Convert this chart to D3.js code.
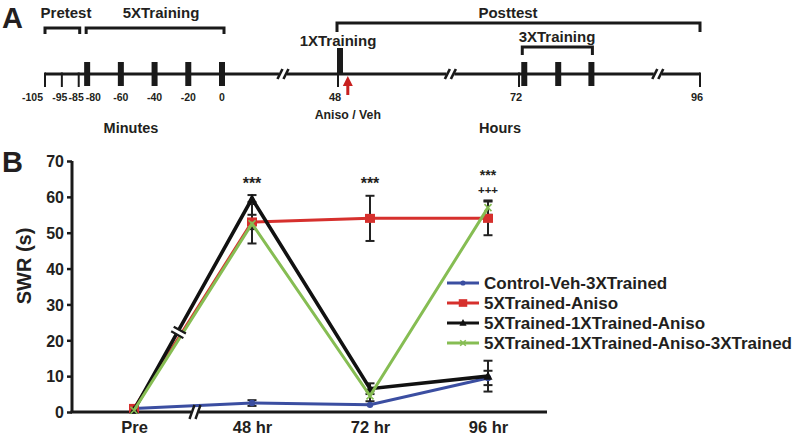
<!DOCTYPE html>
<html><head><meta charset="utf-8">
<script src="https://cdn.jsdelivr.net/npm/d3@7"></script>
<style>
html,body{margin:0;padding:0;background:#fff;}
svg text{font-family:"Liberation Sans",Arial,Helvetica,sans-serif;font-weight:bold;fill:#231f20;}
</style></head>
<body>
<svg id="chart" width="794" height="435"></svg>
<script>
// ---------- Panel A data ----------
const pretestMinutes = [-105, -95, -85];
const fiveXTrainingMinutes = [-80, -60, -40, -20, 0];
const minuteTickLabels = [-105, -95, -85, -80, -60, -40, -20, 0];
const hourTickLabels = [48, 72, 96];
const oneXTrainingHour = 48;
const threeXTrainingHours = [72.7, 77.2, 81.6];
const anisoHour = 49.3;
const timelineBreakHours = [40.7, 62.9, 90.4];

// ---------- Panel B data ----------
const categories = ["Pre", "48 hr", "72 hr", "96 hr"];
const seriesNames = ["Control-Veh-3XTrained", "5XTrained-Aniso", "5XTrained-1XTrained-Aniso", "5XTrained-1XTrained-Aniso-3XTrained"];
const controlVeh = [1.0, 2.5, 2.0, 9.5];
const controlVehErr = [0.3, 0.8, 0.5, 2.0];
const trainedAniso = [1.0, 53.0, 54.0, 54.0];
const trainedAnisoErr = [0.3, 2.0, 6.3, 4.7];
const trained1XAniso = [0.5, 59.5, 6.5, 10.0];
const trained1XAnisoErr = [0.3, 1.0, 1.5, 4.3];
const trained1XAniso3X = [0.5, 52.5, 4.5, 57.0];
const trained1XAniso3XErr = [0.3, 5.5, 1.5, 2.0];
const yTicks = [0, 10, 20, 30, 40, 50, 60, 70];
const sigStars = ["", "***", "***", "***"];
const sigPlus = ["", "", "", "+++"];

const colors = ["#3b4ea1", "#d6302d", "#111111", "#86bd53"];
const markers = ["circle", "square", "triangle", "cross"];

const svg = d3.select("#chart");
const ink = "#1a1a1a";

// ================= PANEL A =================
const gA = svg.append("g");
const minuteScale = d3.scaleLinear().domain([-105, 0]).range([45, 222]);
const hourScale = d3.scaleLinear().domain([48, 96]).range([338, 700]);
const lineY = 74;

gA.append("text").attr("x", 2).attr("y", 28).attr("font-size", 29).text("A");

gA.append("line").attr("x1", minuteScale(-105)).attr("x2", hourScale(96))
  .attr("y1", lineY).attr("y2", lineY).attr("stroke", ink).attr("stroke-width", 3);

timelineBreakHours.forEach(h => {
  const x = hourScale(h);
  gA.append("rect").attr("x", x - 4).attr("y", lineY - 3).attr("width", 8).attr("height", 6).attr("fill", "#fff");
  [-3, 3].forEach(dx => {
    gA.append("line").attr("x1", x + dx - 2.5).attr("y1", lineY + 5).attr("x2", x + dx + 2.5).attr("y2", lineY - 5)
      .attr("stroke", ink).attr("stroke-width", 2.6);
  });
});

pretestMinutes.forEach(m => {
  gA.append("line").attr("x1", minuteScale(m)).attr("x2", minuteScale(m)).attr("y1", lineY - 1.5).attr("y2", 87)
    .attr("stroke", ink).attr("stroke-width", 2);
});
fiveXTrainingMinutes.forEach(m => {
  gA.append("rect").attr("x", minuteScale(m) - 3).attr("y", 62).attr("width", 6).attr("height", 24).attr("fill", ink);
});
hourTickLabels.forEach(h => {
  gA.append("line").attr("x1", hourScale(h)).attr("x2", hourScale(h)).attr("y1", lineY - 1.5).attr("y2", 87)
    .attr("stroke", ink).attr("stroke-width", 2);
});
gA.append("rect").attr("x", hourScale(oneXTrainingHour) - 1).attr("y", 48).attr("width", 6).attr("height", lineY - 48).attr("fill", ink);
threeXTrainingHours.forEach(h => {
  gA.append("rect").attr("x", hourScale(h) - 3).attr("y", 62).attr("width", 6).attr("height", 24).attr("fill", ink);
});

minuteTickLabels.forEach((m, i) => {
  let x = minuteScale(m), anchor = "middle";
  if (i === 0) { x = x - 2; anchor = "end"; }
  if (m === -95) x -= 2;
  if (m === -85) x -= 2.5;
  if (m === -80) { x = x - 1.5; anchor = "start"; }
  gA.append("text").attr("x", x).attr("y", 101).attr("font-size", 10.5).attr("text-anchor", anchor).text(m);
});
hourTickLabels.forEach(h => {
  gA.append("text").attr("x", hourScale(h) - 3).attr("y", 101).attr("font-size", 11).attr("text-anchor", "middle").text(h);
});

function bracket(x1, x2, yTop, yBot) {
  gA.append("path").attr("d", `M${x1},${yBot}V${yTop}H${x2}V${yBot}`)
    .attr("fill", "none").attr("stroke", ink).attr("stroke-width", 3);
}
bracket(minuteScale(-105), minuteScale(-85) + 1, 28, 34);
bracket(minuteScale(-80) - 1, minuteScale(0) + 2, 28, 34);
bracket(hourScale(48) - 1, hourScale(96), 23, 32);
bracket(hourScale(threeXTrainingHours[0]) - 2, hourScale(threeXTrainingHours[2]) + 1, 47, 55);

gA.append("text").attr("x", 66).attr("y", 18).attr("font-size", 15).attr("text-anchor", "middle").text("Pretest");
gA.append("text").attr("x", 161).attr("y", 18).attr("font-size", 15).attr("text-anchor", "middle").text("5XTraining");
gA.append("text").attr("x", 508).attr("y", 18).attr("font-size", 15).attr("text-anchor", "middle").text("Posttest");
gA.append("text").attr("x", 338).attr("y", 46).attr("font-size", 15).attr("text-anchor", "middle").text("1XTraining");
gA.append("text").attr("x", 557).attr("y", 42).attr("font-size", 15).attr("text-anchor", "middle").text("3XTraining");

const ax = hourScale(anisoHour);
gA.append("line").attr("x1", ax).attr("x2", ax).attr("y1", 95).attr("y2", 83).attr("stroke", "#c8201f").attr("stroke-width", 3);
gA.append("path").attr("d", `M${ax},76L${ax - 5},86L${ax + 5},86Z`).attr("fill", "#c8201f");
gA.append("text").attr("x", ax).attr("y", 119).attr("font-size", 12.3).attr("text-anchor", "middle").text("Aniso / Veh");

gA.append("text").attr("x", 131).attr("y", 133).attr("font-size", 14.5).attr("text-anchor", "middle").text("Minutes");
gA.append("text").attr("x", 500).attr("y", 133).attr("font-size", 14.5).attr("text-anchor", "middle").text("Hours");

// ================= PANEL B =================
const gB = svg.append("g");
const y = d3.scaleLinear().domain([0, 70]).range([412, 161]);
const x = d3.scalePoint().domain(categories).range([134, 488]);
const axisLeft = 72, axisRight = 547;

gB.append("text").attr("x", 2).attr("y", 172).attr("font-size", 29).text("B");

const yAxis = gB.append("g").attr("transform", `translate(${axisLeft},0)`)
  .call(d3.axisLeft(y).tickValues(yTicks).tickSize(5).tickPadding(3));
yAxis.select(".domain").attr("stroke", ink).attr("stroke-width", 3).attr("d", `M0,${y(70)}V${y(0)}`);
yAxis.selectAll(".tick line").attr("stroke", ink).attr("stroke-width", 2.5);
yAxis.selectAll(".tick text").attr("font-size", 16).attr("fill", "#231f20")
  .style("font-family", '"Liberation Sans",Arial,sans-serif').style("font-weight", "bold").attr("dy", "0.36em");

gB.append("text").attr("transform", "translate(31,266) rotate(-90)").attr("font-size", 20)
  .attr("text-anchor", "middle").text("SWR (s)");

const xAxis = gB.append("g").attr("transform", `translate(0,${y(0)})`)
  .call(d3.axisBottom(x).tickSize(0).tickPadding(9));
xAxis.select(".domain").attr("stroke", ink).attr("stroke-width", 3).attr("d", `M${axisLeft - 1.5},0H${axisRight}`);
xAxis.selectAll(".tick text").attr("font-size", 16.5).attr("fill", "#231f20")
  .style("font-family", '"Liberation Sans",Arial,sans-serif').style("font-weight", "bold").attr("dy", "0.72em");

const seriesVals = [controlVeh, trainedAniso, trained1XAniso, trained1XAniso3X];
const seriesErrs = [controlVehErr, trainedAnisoErr, trained1XAnisoErr, trained1XAniso3XErr];

seriesVals.forEach((vals, s) => {
  vals.forEach((v, i) => {
    const e = seriesErrs[s][i];
    if (e < 0.6) return;
    const cx = x(categories[i]);
    const g = gB.append("g").attr("stroke", "#222").attr("stroke-width", 2);
    g.append("line").attr("x1", cx).attr("x2", cx).attr("y1", y(v - e)).attr("y2", y(v + e));
    g.append("line").attr("x1", cx - 4.5).attr("x2", cx + 4.5).attr("y1", y(v - e)).attr("y2", y(v - e));
    g.append("line").attr("x1", cx - 4.5).attr("x2", cx + 4.5).attr("y1", y(v + e)).attr("y2", y(v + e));
  });
});

const line = d3.line().x((d, i) => x(categories[i])).y(d => y(d));

function drawMarker(g, type, cx, cy, color, scale) {
  const k = scale || 1;
  if (type === "circle") g.append("circle").attr("cx", cx).attr("cy", cy).attr("r", 3.2 * k).attr("fill", color);
  else if (type === "square") g.append("rect").attr("x", cx - 5 * k).attr("y", cy - 4.5 * k).attr("width", 10 * k).attr("height", 9 * k).attr("fill", color);
  else if (type === "triangle") g.append("path").attr("d", `M${cx},${cy - 5 * k}L${cx - 4.5 * k},${cy + 3.5 * k}L${cx + 4.5 * k},${cy + 3.5 * k}Z`).attr("fill", color);
  else if (type === "cross") {
    const r = 3.5 * k;
    g.append("path").attr("d", `M${cx - r},${cy - r}L${cx + r},${cy + r}M${cx - r},${cy + r}L${cx + r},${cy - r}`)
      .attr("stroke", color).attr("stroke-width", 1.6).attr("fill", "none");
  }
}

seriesVals.forEach((vals, s) => {
  const g = gB.append("g");
  g.append("path").datum(vals).attr("d", line).attr("fill", "none").attr("stroke", colors[s])
    .attr("stroke-width", s === 2 ? 3.6 : 3).attr("stroke-linejoin", "miter");
  vals.forEach((v, i) => drawMarker(g, markers[s], x(categories[i]), y(v), colors[s]));
});

// break marks on the rising segment
(function () {
  const t = 0.37;
  const x0 = x(categories[0]), x1 = x(categories[1]);
  const y0 = y(trained1XAniso[0]), y1 = y(trained1XAniso[1]);
  const bx = x0 + t * (x1 - x0), by = y0 + t * (y1 - y0);
  const len = Math.hypot(x1 - x0, y1 - y0);
  const ux = (x1 - x0) / len, uy = (y1 - y0) / len;
  const px = -uy, py = ux;
  const half = 8;
  gB.append("path").attr("d", `M${bx - px * 6},${by - py * 6}L${bx + px * 10},${by + py * 10}`)
    .attr("stroke", "#fff").attr("stroke-width", 4);
  [-2.6, 2.6].forEach(o => {
    const cx = bx + ux * o, cy = by + uy * o;
    gB.append("line").attr("x1", cx - px * 6).attr("y1", cy - py * 6).attr("x2", cx + px * half).attr("y2", cy + py * half)
      .attr("stroke", ink).attr("stroke-width", 2.2);
  });
})();

// x-axis break
(function () {
  const bx = 195, by = y(0);
  gB.append("rect").attr("x", bx - 4).attr("y", by - 3).attr("width", 8).attr("height", 6).attr("fill", "#fff");
  [-3, 3].forEach(dx => {
    gB.append("line").attr("x1", bx + dx - 2.5).attr("y1", by + 7).attr("x2", bx + dx + 2.5).attr("y2", by - 7)
      .attr("stroke", ink).attr("stroke-width", 2.4);
  });
})();

// significance marks
categories.forEach((c, i) => {
  if (!sigStars[i]) return;
  const stacked = !!sigPlus[i];
  gB.append("text").attr("x", x(c)).attr("y", stacked ? 180 : 189).attr("font-size", stacked ? 14 : 16)
    .attr("text-anchor", "middle").text(sigStars[i]);
  if (stacked) {
    gB.append("text").attr("x", x(c)).attr("y", 193.5).attr("font-size", 11.5)
      .attr("text-anchor", "middle").text(sigPlus[i]);
  }
});

// legend
const legend = gB.append("g");
seriesNames.forEach((name, s) => {
  const ly = 283 + s * 20;
  legend.append("line").attr("x1", 447).attr("x2", 479).attr("y1", ly).attr("y2", ly)
    .attr("stroke", colors[s]).attr("stroke-width", 3);
  drawMarker(legend, markers[s], 463, ly, colors[s], s === 1 ? 0.85 : 0.8);
  legend.append("text").attr("x", 484).attr("y", ly + 6).attr("font-size", 17).text(name);
});
</script>
</body></html>
